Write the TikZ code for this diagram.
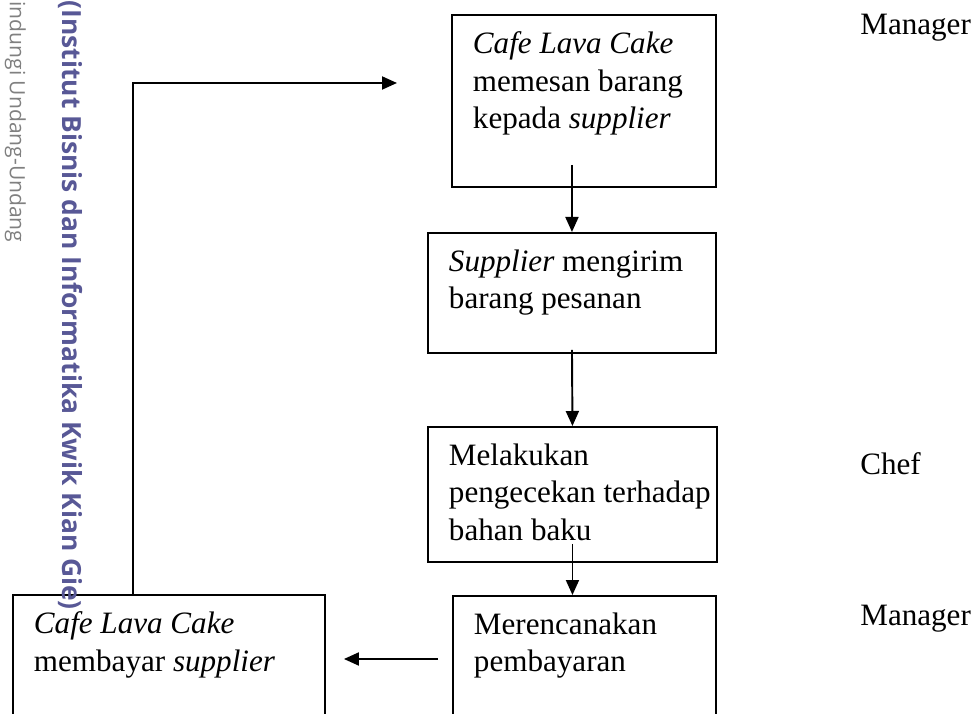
\documentclass[tikz,border=0pt]{standalone}
\usepackage{fontspec}
\setmainfont{Liberation Serif}
\newfontfamily\wmfont{Open Sans}
\usetikzlibrary{arrows.meta,positioning,calc}
\definecolor{wmpurple}{RGB}{88,88,150}
\definecolor{wmgray}{RGB}{128,128,128}
% box content: width, height, lines
\newcommand{\boxtext}[3]{\parbox[t][#2][t]{#1}{\vspace*{0.34cm}\raggedright\leftskip=0.42cm #3\par}}
\tikzset{
  stepbox/.style={draw, rectangle, anchor=north west, inner sep=0pt, line width=1.1pt, font=\fontsize{17.7}{21.3}\selectfont},
  role/.style={anchor=base west, inner sep=0pt, font=\fontsize{17.7}{21.3}\selectfont},
  arr/.style={-{Triangle[length=0.3cm, width=0.26cm]}, line width=1.1pt},
  wmark/.style={rotate=-90, anchor=base west, inner sep=0pt},
}
\begin{document}
\begin{tikzpicture}
\useasboundingbox (0,0) rectangle (19.52,14.26);
\clip (0,0) rectangle (19.52,14.26);

% Process boxes
\node[stepbox] (order) at (9.02,13.98)
  {\boxtext{5.28cm}{3.44cm}{\textit{Cafe Lava Cake}\\ memesan barang\\ kepada \textit{supplier}}};
\node[stepbox] (supply) at (8.54,9.62)
  {\boxtext{5.76cm}{2.4cm}{\textit{Supplier} mengirim\\ barang pesanan}};
\node[stepbox] (check) at (8.54,5.74)
  {\boxtext{5.78cm}{2.7cm}{Melakukan\\ pengecekan terhadap\\ bahan baku}};
\node[stepbox] (plan) at (9.04,2.36)
  {\boxtext{5.26cm}{2.8cm}{Merencanakan\\ pembayaran}};
\node[stepbox] (pay) at (0.24,2.38)
  {\boxtext{6.24cm}{2.8cm}{\textit{Cafe Lava Cake}\\ membayar \textit{supplier}}};

% Roles
\node[role] (mgrtop) at (17.2,13.56) {Manager};
\node[role] (chef) at (17.2,4.76) {Chef};
\node[role] (mgrpay) at (17.2,1.76) {Manager};

% Flow
\draw[arr] ($(order.south -| supply.north)+(0,0.46)$) -- (supply.north);
\draw[arr] ($(supply.south)+(0,0.08)$) -- (check.north);
\draw[arr] ($(check.south)+(0,0.38)$) -- (check.south |- plan.north);
\draw[arr] ($(plan.north west)+(-0.28,-1.28)$) -- ($(pay.north east)+(0.36,-1.30)$);
\draw[arr] ($(pay.north west)+(2.42,0)$) |- ($(order.north west)+(-1.08,-1.38)$);

% Watermark
\node[wmark, text=wmgray, font=\wmfont\fontsize{12}{14}\selectfont] (law) at (0.2,14.24) {indungi Undang-Undang};
\node[wmark, text=wmpurple, font=\wmfont\bfseries\fontsize{15}{17}\selectfont] (inst) at (1.24,14.25) {(Institut Bisnis dan Informatika Kwik Kian Gie)};
\end{tikzpicture}
\end{document}
